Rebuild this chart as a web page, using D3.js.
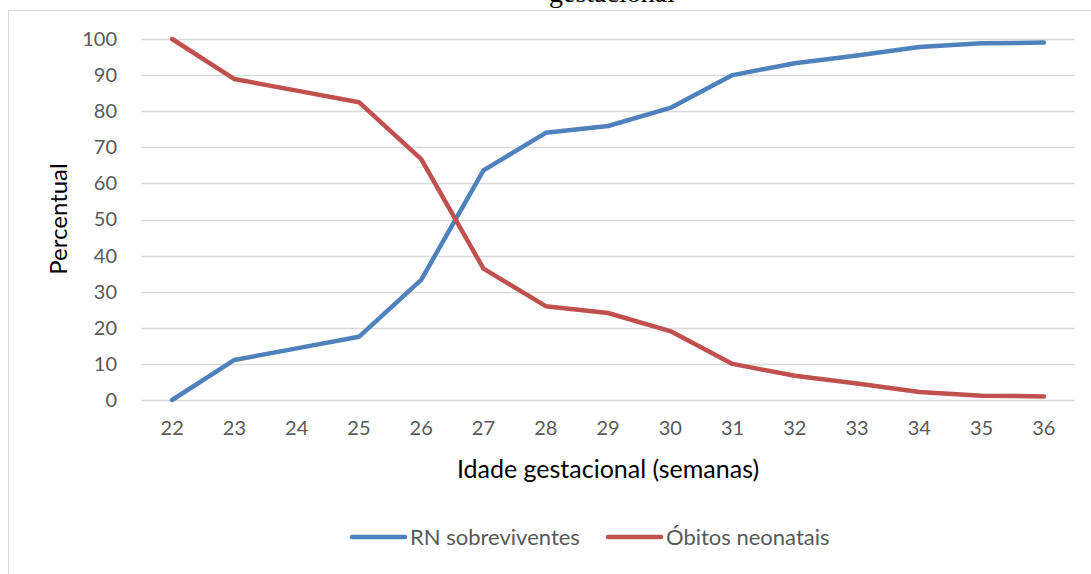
<!DOCTYPE html>
<html><head><meta charset="utf-8">
<script src="https://cdn.jsdelivr.net/npm/d3@7"></script>
<style>body{margin:0;background:#fff}svg{display:block}</style>
</head><body><svg id="c" width="1091" height="574"></svg>
<script>
const categories = ["22","23","24","25","26","27","28","29","30","31","32","33","34","35","36"];
const sobreviventes = [0, 11.1, 14.3, 17.5, 33.3, 63.6, 74.0, 75.9, 80.9, 90.0, 93.3, 95.4, 97.8, 98.8, 99.0];
const obitos = [100, 88.9, 85.7, 82.5, 66.7, 36.4, 26.0, 24.1, 19.1, 10.0, 6.7, 4.6, 2.2, 1.2, 1.0];
const yTicks = [0,10,20,30,40,50,60,70,80,90,100];
const seriesNames = ["RN sobreviventes", "Óbitos neonatais"];
const colors = ["#4F81BD", "#C0504D"];

const svg = d3.select("#c");
svg.append("rect").attr("x",8.5).attr("y",10.5).attr("width",1200).attr("height",700)
  .attr("fill","#fff").attr("stroke","#D9D9D9").attr("stroke-width",1);

svg.append("text").attr("x",612).attr("y",2).attr("text-anchor","middle")
  .attr("font-family","Liberation Serif, Times New Roman, serif").attr("font-size",28)
  .attr("fill","#000").text("gestacional");

const x = d3.scaleBand().domain(categories).range([141,1075]);
const y = d3.scaleLinear().domain([0,100]).range([400,39]);

const font = "Lato, Carlito, Calibri, sans-serif";
const g = svg.append("g");
g.selectAll("line.grid").data(yTicks).join("line")
  .attr("x1",141).attr("x2",1075)
  .attr("y1",d=>Math.round(y(d))+0.5).attr("y2",d=>Math.round(y(d))+0.5)
  .attr("stroke","#D9D9D9").attr("stroke-width",1.3);

const yAxis = d3.axisLeft(y).tickValues(yTicks).tickSize(0).tickPadding(0);
const ya = svg.append("g").attr("transform","translate(117,0)").call(yAxis);
ya.select(".domain").remove();
ya.selectAll("text").attr("font-family",font).attr("font-size",20).attr("fill","#595959");

const xAxis = d3.axisBottom(x).tickSize(0).tickPadding(0);
const xa = svg.append("g").attr("transform","translate(0,421)").call(xAxis);
xa.select(".domain").remove();
xa.selectAll("text").attr("font-family",font).attr("font-size",20).attr("fill","#595959");

const line = d3.line().x((d,i)=>x(categories[i])+x.bandwidth()/2).y(d=>y(d));
[sobreviventes, obitos].forEach((s,k)=>{
  svg.append("path").attr("d",line(s)).attr("fill","none").attr("stroke",colors[k])
    .attr("stroke-width",4.5).attr("stroke-linecap","round").attr("stroke-linejoin","round");
});

svg.append("text").attr("transform","translate(67,219) rotate(-90)").attr("text-anchor","middle")
  .attr("font-family",font).attr("font-size",24).attr("fill","#000").text("Percentual");
svg.append("text").attr("x",608).attr("y",478).attr("text-anchor","middle")
  .attr("font-family",font).attr("font-size",25).attr("fill","#000").text("Idade gestacional (semanas)");

const legX = [352, 608];
seriesNames.forEach((n,k)=>{
  svg.append("line").attr("x1",legX[k]).attr("x2",legX[k]+53).attr("y1",537).attr("y2",537)
    .attr("stroke",colors[k]).attr("stroke-width",4.5).attr("stroke-linecap","round");
  svg.append("text").attr("x",legX[k]+58).attr("y",545).attr("font-family",font)
    .attr("font-size",22).attr("fill","#595959").text(n);
});
</script></body></html>
